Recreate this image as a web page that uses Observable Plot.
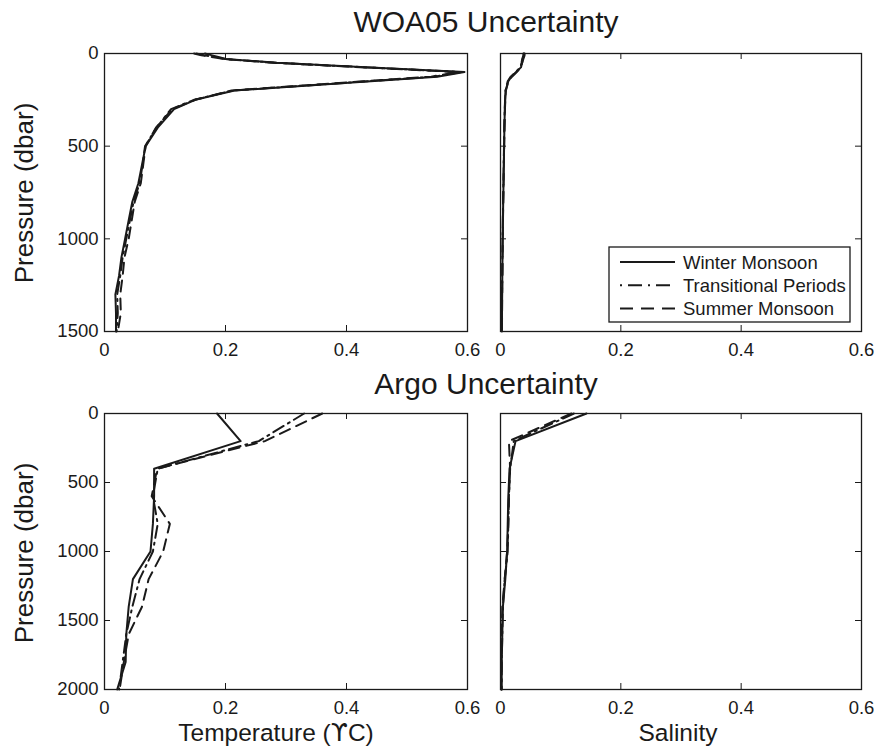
<!DOCTYPE html>
<html>
<head>
<meta charset="utf-8">
<script src="https://cdn.jsdelivr.net/npm/d3@7"></script>
<script src="https://cdn.jsdelivr.net/npm/@observablehq/plot@0.6"></script>
<style>
  html, body { margin: 0; padding: 0; background: #fff; }
  #chart { position: relative; width: 874px; height: 746px; overflow: hidden; background: #fff;
           font-family: "Liberation Sans", Arial, Helvetica, sans-serif; }
</style>
</head>
<body>
<div id="chart"></div>
<script>
// ---------- data ----------
const seasons = ["Winter Monsoon", "Transitional Periods", "Summer Monsoon"];
const xTicks = [0, 0.2, 0.4, 0.6];
const woaPressureTicks = [0, 500, 1000, 1500];
const argoPressureTicks = [0, 500, 1000, 1500, 2000];
const titles = ["WOA05 Uncertainty", "Argo Uncertainty"];
const yLabel = "Pressure (dbar)";
const xLabelParts = [["Temperature (", "ϒ", "C)"], ["Salinity"]];

const woaPressure = [0,10,20,30,50,75,100,125,150,200,250,300,400,500,600,700,800,900,1000,1100,1200,1300,1400,1500];
const woaTempWinter       = [0.166,0.178,0.190,0.200,0.285,0.440,0.595,0.550,0.440,0.215,0.150,0.115,0.088,0.068,0.062,0.056,0.046,0.040,0.034,0.028,0.024,0.018,0.019,0.019];
const woaTempTransitional = [0.152,0.166,0.184,0.200,0.283,0.435,0.590,0.545,0.435,0.212,0.148,0.110,0.086,0.067,0.063,0.058,0.048,0.042,0.036,0.030,0.026,0.021,0.022,0.020];
const woaTempSummer       = [0.148,0.160,0.180,0.198,0.280,0.430,0.585,0.540,0.430,0.210,0.150,0.112,0.085,0.068,0.064,0.060,0.050,0.045,0.040,0.033,0.030,0.026,0.027,0.022];
const woaSaltWinter       = [0.039,0.039,0.038,0.037,0.036,0.034,0.026,0.018,0.013,0.0085,0.0078,0.0072,0.0065,0.0060,0.0055,0.0050,0.0045,0.0040,0.0037,0.0033,0.0030,0.0027,0.0025,0.0023];
const woaSaltTransitional = [0.038,0.038,0.037,0.036,0.035,0.033,0.025,0.017,0.012,0.0083,0.0076,0.0070,0.0063,0.0058,0.0053,0.0048,0.0043,0.0039,0.0035,0.0032,0.0029,0.0026,0.0024,0.0022];
const woaSaltSummer       = [0.040,0.040,0.039,0.038,0.036,0.034,0.027,0.019,0.013,0.0090,0.0080,0.0074,0.0066,0.0061,0.0056,0.0051,0.0046,0.0041,0.0038,0.0034,0.0031,0.0028,0.0026,0.0024];

const argoPressure = [0,200,400,600,800,1000,1200,1400,1600,1800,2000];
const argoTempWinter       = [0.186,0.225,0.082,0.082,0.080,0.076,0.047,0.040,0.036,0.035,0.021];
const argoTempTransitional = [0.330,0.255,0.088,0.080,0.088,0.080,0.058,0.046,0.036,0.030,0.024];
const argoTempSummer       = [0.360,0.265,0.087,0.078,0.108,0.097,0.073,0.062,0.040,0.032,0.025];
const argoSaltWinter       = [0.143,0.025,0.015,0.013,0.012,0.011,0.008,0.004,0.003,0.002,0.002];
const argoSaltTransitional = [0.122,0.022,0.016,0.014,0.013,0.012,0.007,0.004,0.003,0.002,0.002];
const argoSaltSummer       = [0.118,0.014,0.016,0.014,0.013,0.011,0.007,0.003,0.002,0.002,0.001];

// ---------- styling ----------
const FONT = '"Liberation Sans", Arial, Helvetica, sans-serif';
const ink = "#1a1a1a";
const dash = {
  "Winter Monsoon": null,
  "Transitional Periods": "12,5,2,5",
  "Summer Monsoon": "11,7"
};

function table(pressure, w, t, s) {
  return [w, t, s].flatMap((vals, i) =>
    vals.map((v, j) => ({season: seasons[i], value: v, pressure: pressure[j]})));
}

const chart = document.getElementById("chart");

function panel({rows, yMax, yTicks, yLabels, left, top, w, h}) {
  const mL = 70, mR = 12, mT = 12, mB = 34;
  const marks = [
    ...seasons.map(s => Plot.line(rows.filter(r => r.season === s), {
      x: "value", y: "pressure", stroke: ink, strokeWidth: 2,
      strokeDasharray: dash[s], strokeLinejoin: "round"
    })),
    Plot.tickX(xTicks, {x: d => d, insetTop: h - 6, stroke: ink, strokeWidth: 1}),
    Plot.tickX(xTicks, {x: d => d, insetBottom: h - 6, stroke: ink, strokeWidth: 1}),
    Plot.tickY(yTicks, {y: d => d, insetRight: w - 6, stroke: ink, strokeWidth: 1}),
    Plot.tickY(yTicks, {y: d => d, insetLeft: w - 6, stroke: ink, strokeWidth: 1}),
    Plot.frame({stroke: ink, strokeWidth: 1.3}),
    Plot.axisX({ticks: xTicks, tickSize: 0, tickPadding: 11, label: null, fontSize: 18.5, tickFormat: d => String(d)})
  ];
  if (yLabels) {
    marks.push(Plot.axisY({ticks: yTicks, tickSize: 0, tickPadding: 6, label: null, fontSize: 18.5, tickFormat: d => String(d)}));
  }
  const svg = Plot.plot({
    width: mL + w + mR, height: mT + h + mB,
    marginLeft: mL, marginRight: mR, marginTop: mT, marginBottom: mB,
    style: {background: "transparent", fontFamily: FONT, color: ink, overflow: "visible"},
    x: {domain: [0, 0.6]},
    y: yLabels ? {domain: [0, yMax], reverse: true} : {domain: [0, yMax], reverse: true, axis: null},
    marks
  });
  svg.style.position = "absolute";
  svg.style.left = (left - mL) + "px";
  svg.style.top = (top - mT) + "px";
  chart.append(svg);
}

panel({rows: table(woaPressure, woaTempWinter, woaTempTransitional, woaTempSummer),
       yMax: 1500, yTicks: woaPressureTicks, yLabels: true, left: 104, top: 53, w: 363, h: 278});
panel({rows: table(woaPressure, woaSaltWinter, woaSaltTransitional, woaSaltSummer),
       yMax: 1500, yTicks: woaPressureTicks, yLabels: false, left: 500, top: 53, w: 361, h: 278});
panel({rows: table(argoPressure, argoTempWinter, argoTempTransitional, argoTempSummer),
       yMax: 2000, yTicks: argoPressureTicks, yLabels: true, left: 104, top: 413, w: 363, h: 276});
panel({rows: table(argoPressure, argoSaltWinter, argoSaltTransitional, argoSaltSummer),
       yMax: 2000, yTicks: argoPressureTicks, yLabels: false, left: 500, top: 413, w: 361, h: 276});

// ---------- overlay: titles, axis labels, legend ----------
const ov = d3.select(chart).append("svg")
  .attr("width", 874).attr("height", 746)
  .style("position", "absolute").style("left", 0).style("top", 0)
  .style("pointer-events", "none")
  .style("font-family", FONT).style("fill", ink);

ov.append("text").attr("x", 486).attr("y", 32).attr("text-anchor", "middle")
  .attr("font-size", 30).text(titles[0]);
ov.append("text").attr("x", 486).attr("y", 394).attr("text-anchor", "middle")
  .attr("font-size", 30).text(titles[1]);

[193, 553].forEach(cy => {
  ov.append("text").attr("transform", `translate(32.5,${cy}) rotate(-90)`)
    .attr("text-anchor", "middle").attr("font-size", 26).text(yLabel);
});
[[276, xLabelParts[0]], [678, xLabelParts[1]]].forEach(([cx, parts]) => {
  const t = ov.append("text").attr("x", cx).attr("y", 740.5).attr("text-anchor", "middle")
    .attr("font-size", 24.5);
  parts.forEach(p => {
    const ts = t.append("tspan").text(p);
    if (p === "ϒ") ts.attr("font-family", '"DejaVu Sans", sans-serif');
  });
});

// legend
const lg = ov.append("g");
lg.append("rect").attr("x", 609).attr("y", 247).attr("width", 241).attr("height", 75)
  .attr("fill", "#fff").attr("stroke", ink).attr("stroke-width", 1.3);
seasons.forEach((s, i) => {
  const y = 262 + i * 23.2;
  lg.append("line").attr("x1", 620).attr("x2", 675).attr("y1", y).attr("y2", y)
    .attr("stroke", ink).attr("stroke-width", 2)
    .attr("stroke-dasharray", dash[s] ? (s === "Transitional Periods" ? "2,6,14,6" : "13,8") : null);
  lg.append("text").attr("x", 683).attr("y", y + 6.5).attr("font-size", 18.5).text(s);
});
</script>
</body>
</html>
